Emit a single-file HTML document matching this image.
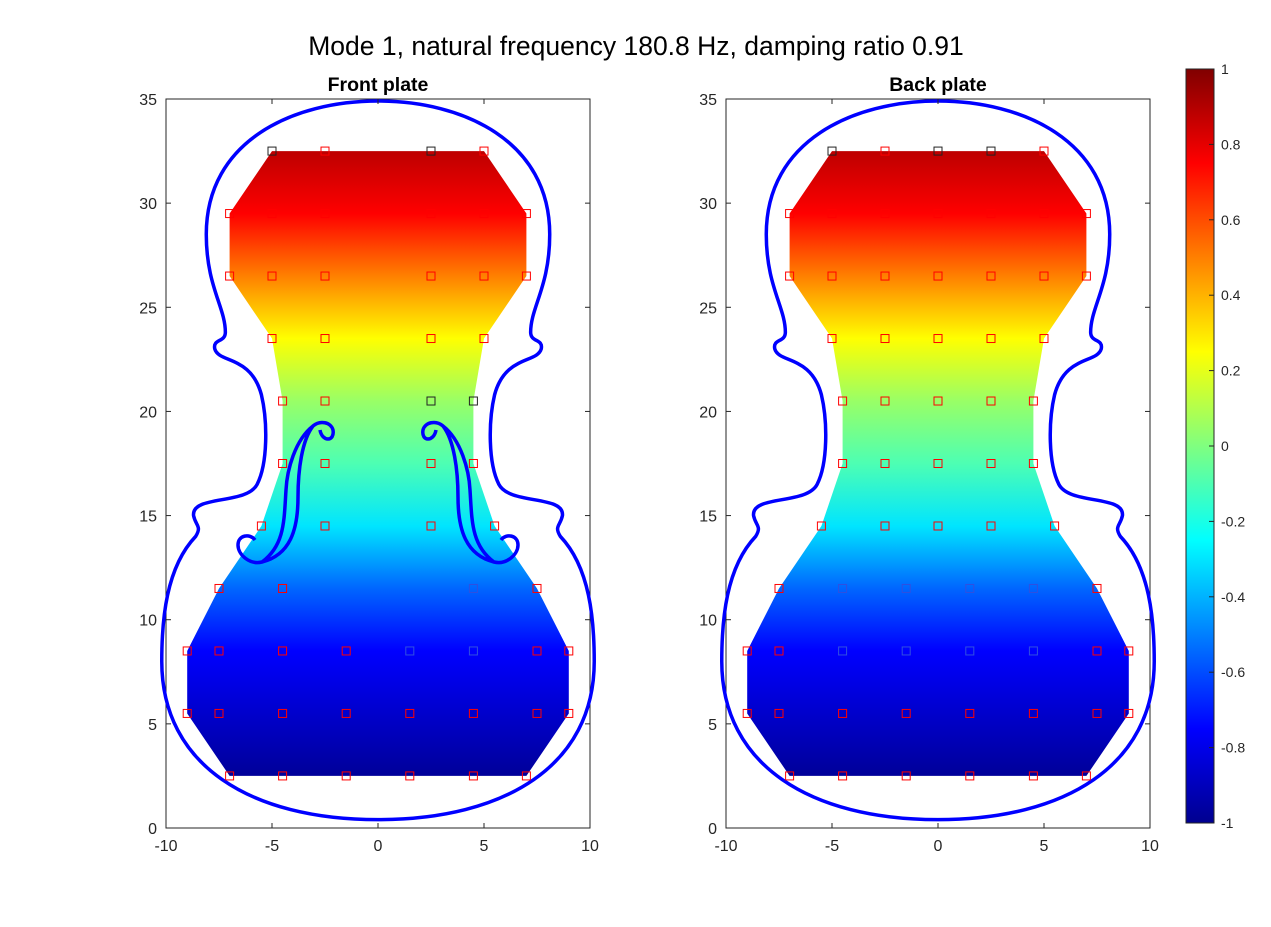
<!DOCTYPE html>
<html><head><meta charset="utf-8"><style>
body{margin:0;background:#fff;}
svg{display:block;font-family:"Liberation Sans",Arial,sans-serif;}
</style></head><body>
<svg id="fig" width="1271" height="927" viewBox="0 0 1271 927">
<defs>
<linearGradient id="plateGrad" gradientUnits="userSpaceOnUse" x1="0" y1="151" x2="0" y2="776"></linearGradient>
<linearGradient id="cbGrad" x1="0" y1="1" x2="0" y2="0">
<stop offset="0" stop-color="#00008f"/><stop offset="0.125" stop-color="#0000ff"/><stop offset="0.375" stop-color="#00ffff"/><stop offset="0.625" stop-color="#ffff00"/><stop offset="0.875" stop-color="#ff0000"/><stop offset="1" stop-color="#800000"/>
</linearGradient>
</defs>
<text x="636" y="55" font-size="26.5" text-anchor="middle" fill="#000">Mode 1, natural frequency 180.8 Hz, damping ratio 0.91</text>
<g id="plots"></g>
</svg>
<script>
const xTicks=[-10,-5,0,5,10];
const yTicks=[0,5,10,15,20,25,30,35];
const cbTicks=[-1,-0.8,-0.6,-0.4,-0.2,0,0.2,0.4,0.6,0.8,1];
const rowY=[32.5,29.5,26.5,23.5,20.5,17.5,14.5,11.5,8.5,5.5,2.5];
const rowVal=[0.88,0.75,0.5,0.25,0.05,-0.1,-0.3,-0.55,-0.75,-0.85,-0.95];
const plateX=[-5,5,7,7,5,4.5,4.5,5.5,7.5,9,9,7,-7,-9,-9,-7.5,-5.5,-4.5,-4.5,-5,-7,-7];
const plateY=[32.5,32.5,29.5,26.5,23.5,20.5,17.5,14.5,11.5,8.5,5.5,2.5,2.5,5.5,8.5,11.5,14.5,17.5,20.5,23.5,26.5,29.5];
const frontRows={32.5:[-5,-2.5,2.5,5],29.5:[-7,-5,-2.5,2.5,5,7],26.5:[-7,-5,-2.5,2.5,5,7],23.5:[-5,-2.5,2.5,5],20.5:[-4.5,-2.5,2.5,4.5],17.5:[-4.5,-2.5,2.5,4.5],14.5:[-5.5,-2.5,2.5,5.5],11.5:[-7.5,-4.5,4.5,7.5],8.5:[-9,-7.5,-4.5,-1.5,1.5,4.5,7.5,9],5.5:[-9,-7.5,-4.5,-1.5,1.5,4.5,7.5,9],2.5:[-7,-4.5,-1.5,1.5,4.5,7]};
const backRows={32.5:[-5,-2.5,0,2.5,5],29.5:[-7,-5,-2.5,0,2.5,5,7],26.5:[-7,-5,-2.5,0,2.5,5,7],23.5:[-5,-2.5,0,2.5,5],20.5:[-4.5,-2.5,0,2.5,4.5],17.5:[-4.5,-2.5,0,2.5,4.5],14.5:[-5.5,-2.5,0,2.5,5.5],11.5:[-7.5,-4.5,-1.5,1.5,4.5,7.5],8.5:[-9,-7.5,-4.5,-1.5,1.5,4.5,7.5,9],5.5:[-9,-7.5,-4.5,-1.5,1.5,4.5,7.5,9],2.5:[-7,-4.5,-1.5,1.5,4.5,7]};

const NS="http://www.w3.org/2000/svg";
function mk(t,a,p){const e=document.createElementNS(NS,t);for(const k in a)e.setAttribute(k,a[k]);p.appendChild(e);return e;}
function jet(v){const t=(v+1)/2;const c=x=>Math.max(0,Math.min(1,x));
 const r=c(Math.min(4*t-1.5,-4*t+4.5)),g=c(Math.min(4*t-0.5,-4*t+3.5)),b=c(Math.min(4*t+0.5,-4*t+2.5));
 return `rgb(${Math.round(r*255)},${Math.round(g*255)},${Math.round(b*255)})`;}
const Y0=828,Y1=99;const yS=v=>Y0+(Y1-Y0)*v/35;
const grad=document.getElementById('plateGrad');
rowY.forEach((y,i)=>{mk('stop',{offset:((yS(y)-151)/(776-151)).toFixed(4),'stop-color':jet(rowVal[i])},grad);});

const plots=document.getElementById('plots');
function drawPlate(x0,title,rows,name,fholes){
 const xS=v=>x0+(v+10)*21.2;
 const g=mk('g',{},plots);
 
 
 mk('rect',{x:x0,y:Y1,width:424,height:Y0-Y1,fill:'#fff',stroke:'#262626','stroke-width':1},g);
 const pts=plateX.map((x,i)=>xS(x)+','+yS(plateY[i])).join(' ');
 const pl=mk('polygon',{points:pts,fill:'url(#plateGrad)'},g);
 
 
 const cx=xS(0);
 const half="M0 34.9 C4 34.9 8.1 33 8.1 28.5 C8.1 26 7.2 25 7.2 23.8 C7.2 23.3 7.8 23.5 7.7 23 C7.5 22.3 6 22.7 5.5 20.8 C5.2 19.5 5.2 17.5 5.7 16.5 C6.2 15.5 8.8 16 8.7 15 C8.6 14.5 8.3 14.5 8.6 14 C10 12.5 10.2 10 10.2 8 C10.2 3 6 0.4 0 0.4";
 [1,-1].forEach(s=>{const o=mk('path',{d:half,fill:'none',stroke:'#0000ff','stroke-width':3.5,'vector-effect':'non-scaling-stroke',transform:`translate(${cx},${Y0}) scale(${21.2*s},${-20.83})`},g);
  
  });
 if(fholes){const fd="M320 430 C322 442 335 442 333 430 C331 422 320 420 313 426 C295 440 287 470 286 490 C284 520 285 545 262 562 C250 565 238 555 238 545 C238 535 250 533 255 540 M313 426 C302 440 298 470 298 497 C298 530 290 555 262 562";
  [0,1].forEach(m=>{const f=mk('path',{d:fd,fill:'none',stroke:'#0000ff','stroke-width':3.5,transform:m?'translate(756,0) scale(-1,1)':''},g);
   
   });}
 for(const y in rows){rows[y].forEach(x=>{const blk=(y==32.5&&(x==-5||x==2.5||x==0))||(fholes&&y==20.5&&x>2);
  const blu=y<=11.5&&y>=8.5&&Math.abs(x)<=4.5&&x>0&&fholes||(!fholes&&y>=8.5&&y<=11.5&&Math.abs(x)<=4.5);
  const r=mk('rect',{x:xS(x)-4,y:yS(+y)-4,width:8,height:8,fill:'none',stroke:blk?'#222':(blu?'#3050e0':'#ff0000'),'stroke-width':1},g);
  
  });}
 xTicks.forEach(v=>{const x=xS(v);mk('line',{x1:x,y1:Y0,x2:x,y2:Y0-5,stroke:'#262626'},g);mk('line',{x1:x,y1:Y1,x2:x,y2:Y1+5,stroke:'#262626'},g);
  const t=mk('text',{x:x,y:Y0+23,'font-size':16,'text-anchor':'middle',fill:'#262626'},g);t.textContent=v;
  
  });
 yTicks.forEach(v=>{const y=yS(v);mk('line',{x1:x0,y1:y,x2:x0+5,y2:y,stroke:'#262626'},g);mk('line',{x1:x0+424,y1:y,x2:x0+419,y2:y,stroke:'#262626'},g);
  const t=mk('text',{x:x0-9,y:y+6,'font-size':16,'text-anchor':'end',fill:'#262626'},g);t.textContent=v;
  
  });
 const tt=mk('text',{x:x0+212,y:91,'font-size':19.5,'font-weight':'bold','text-anchor':'middle',fill:'#000'},g);tt.textContent=title;
 
 
}
drawPlate(166,'Front plate',frontRows,'front-plate-axes',true);
drawPlate(726,'Back plate',backRows,'back-plate-axes',false);
const cb=mk('g',{},plots);


mk('rect',{x:1186,y:69,width:28,height:754,fill:'url(#cbGrad)',stroke:'#262626','stroke-width':1},cb);
cbTicks.forEach(v=>{const y=823-(v+1)/2*754;mk('line',{x1:1209,y1:y,x2:1214,y2:y,stroke:'#262626'},cb);
 const t=mk('text',{x:1221,y:y+5,'font-size':14,fill:'#262626'},cb);t.textContent=String(Math.round(v*10)/10);
 
 });
</script>
</body></html>
